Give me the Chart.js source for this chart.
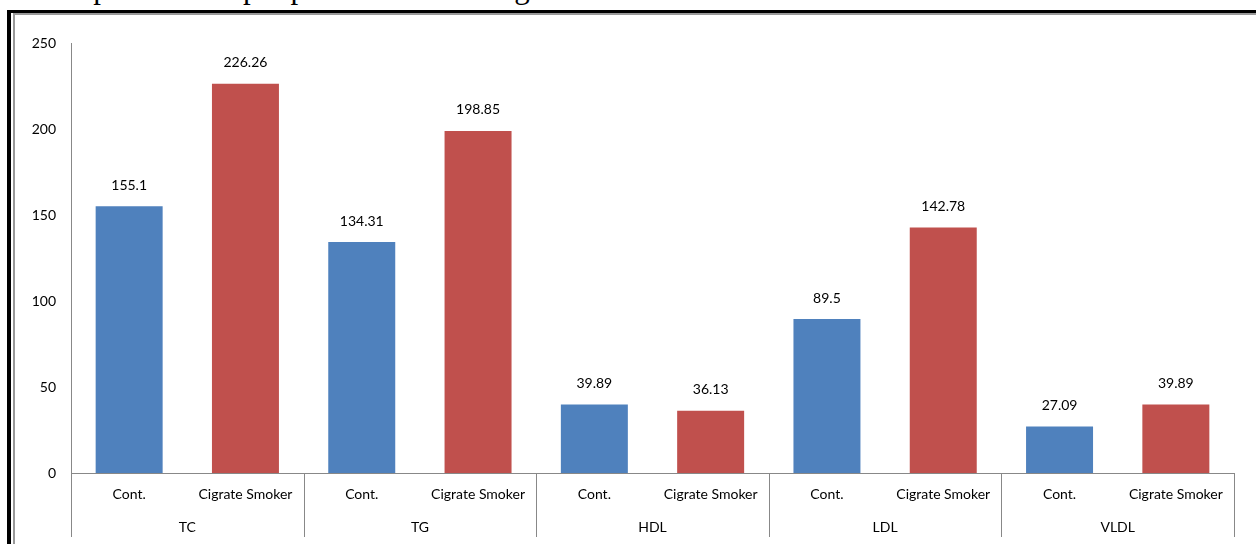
<!DOCTYPE html>
<html>
<head>
<meta charset="utf-8">
<script src="https://cdn.jsdelivr.net/npm/chart.js@4/dist/chart.umd.min.js"></script>
<style>
    html, body { margin: 0; padding: 0; background: #fff; }
    body { width: 1256px; height: 544px; position: relative; overflow: hidden; }
    #title {
        position: absolute; left: 33px; top: -30px; white-space: nowrap; line-height: 36px;
        font-family: "Liberation Serif", "Times New Roman", serif; font-size: 31px; color: #000;
    }
    .frame { position: absolute; }
    #chart { position: absolute; left: 0; top: 0; }
</style>
</head>
<body>
<div id="title">Comparison of lipid profile between cigarette smokers and controls</div>
<!-- ramka e zeze + e hirte -->
<div class="frame" style="left:7px; top:10px; width:1260px; height:3px; background:#000;"></div>
<div class="frame" style="left:7px; top:10px; width:4px; height:540px; background:#000;"></div>
<div class="frame" style="left:13px; top:13px; width:1250px; height:2px; background:#999;"></div>
<div class="frame" style="left:13px; top:13px; width:2px; height:540px; background:#999;"></div>
<canvas id="chart" width="1256" height="544"></canvas>

<script>
// te dhenat
const groups = ["TC", "TG", "HDL", "LDL", "VLDL"];
const subLabels = ["Cont.", "Cigrate Smoker"];
const controlValues = [155.1, 134.31, 39.89, 89.5, 27.09];
const smokerValues = [226.26, 198.85, 36.13, 142.78, 39.89];
const yTicks = [0, 50, 100, 150, 200, 250];

const blue = "#4F81BD";
const red = "#C0504D";
const axisColor = "#888888";
const fontFamily = "Lato, 'Open Sans', sans-serif";

// nderto kategorite nje pas nje (Cont., Cigrate Smoker per secilin grup)
const labels = [];
const values = [];
const colors = [];
groups.forEach((g, i) => {
    labels.push(subLabels[0], subLabels[1]);
    values.push(controlValues[i], smokerValues[i]);
    colors.push(blue, red);
});

// etiketat mbi shtylla
const valueLabels = {
    id: "valueLabels",
    afterDatasetsDraw(chart) {
        const ctx = chart.ctx;
        const meta = chart.getDatasetMeta(0);
        ctx.save();
        ctx.font = "14px " + fontFamily;
        ctx.fillStyle = "#000";
        ctx.textAlign = "center";
        ctx.textBaseline = "middle";
        meta.data.forEach((bar, i) => {
            ctx.fillText(String(values[i]), bar.x, bar.y - 21);
        });
        ctx.restore();
    }
};

// grupet poshte boshtit x dhe vijat ndarese
const groupAxis = {
    id: "groupAxis",
    afterDraw(chart) {
        const ctx = chart.ctx;
        const x = chart.scales.x;
        const area = chart.chartArea;
        const step = (x.getPixelForValue(1) - x.getPixelForValue(0));
        ctx.save();
        ctx.strokeStyle = axisColor;
        ctx.lineWidth = 1;
        for (let g = 0; g <= groups.length; g++) {
            const px = Math.round(x.getPixelForValue(g * 2) - step / 2) + 0.5;
            ctx.beginPath();
            ctx.moveTo(px, area.bottom);
            ctx.lineTo(px, area.bottom + 64);
            ctx.stroke();
        }
        ctx.font = "14px " + fontFamily;
        ctx.fillStyle = "#000";
        ctx.textAlign = "center";
        ctx.textBaseline = "middle";
        groups.forEach((g, i) => {
            const cx = (x.getPixelForValue(i * 2) + x.getPixelForValue(i * 2 + 1)) / 2;
            ctx.fillText(g, cx, area.bottom + 54);
        });
        ctx.restore();
    }
};

new Chart(document.getElementById("chart").getContext("2d"), {
    type: "bar",
    data: {
        labels: labels,
        datasets: [{
            data: values,
            backgroundColor: colors,
            borderWidth: 0,
            categoryPercentage: 1,
            barPercentage: 0.576
        }]
    },
    options: {
        responsive: false,
        devicePixelRatio: 1,
        animation: false,
        layout: { padding: { top: 43, right: 22, left: 0, bottom: 0 } },
        plugins: {
            legend: { display: false },
            tooltip: { enabled: false },
            title: { display: false }
        },
        scales: {
            x: {
                grid: { display: false, drawTicks: false },
                border: { display: true, color: axisColor, width: 1 },
                ticks: {
                    color: "#000",
                    font: { family: fontFamily, size: 14 },
                    padding: 13,
                    maxRotation: 0,
                    autoSkip: false
                },
                afterFit: (scale) => { scale.height = 71; }
            },
            y: {
                min: 0,
                max: 250,
                afterBuildTicks: (scale) => { scale.ticks = yTicks.map(v => ({ value: v })); },
                grid: { display: false, drawTicks: false },
                border: { display: true, color: axisColor, width: 1 },
                ticks: {
                    color: "#000",
                    font: { family: fontFamily, size: 14 },
                    padding: 15
                },
                afterFit: (scale) => { scale.width = 71; }
            }
        }
    },
    plugins: [valueLabels, groupAxis]
});
</script>
</body>
</html>
